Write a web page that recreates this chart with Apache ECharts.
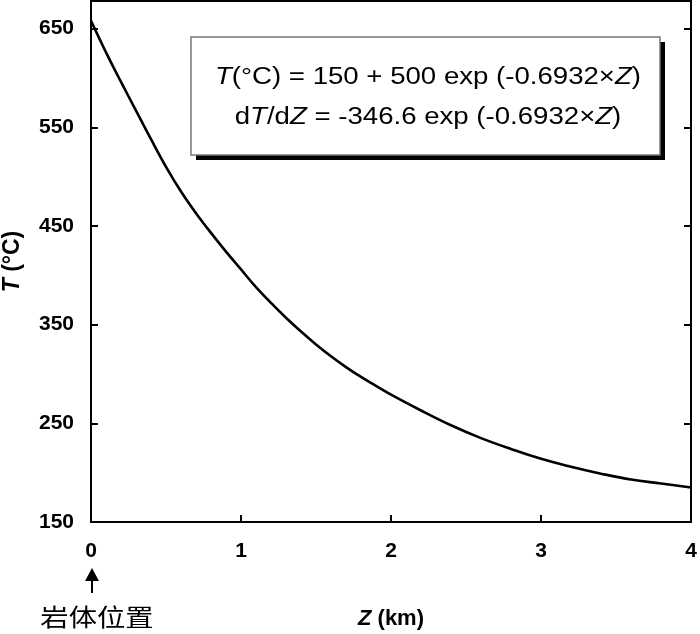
<!DOCTYPE html>
<html>
<head>
<meta charset="utf-8">
<title>T-Z</title>
<script src="https://cdn.jsdelivr.net/npm/echarts@6/dist/echarts.min.js"></script>
<style>
  html, body { margin: 0; padding: 0; background: #fff; }
  #chart { width: 700px; height: 634px; }
</style>
</head>
<body>
<div id="chart"></div>
<script>
// 深度 Z (km) 与温度 T (°C)
var zValues = [0, 0.1, 0.2, 0.3, 0.4, 0.5, 0.6, 0.7, 0.8, 0.9, 1.0, 1.1, 1.2, 1.3, 1.4, 1.5,
    1.6, 1.7, 1.8, 1.9, 2.0, 2.2, 2.4, 2.6, 2.8, 3.0, 3.2, 3.4, 3.6, 3.8, 4.0];
var tValues = [658, 626, 596, 567, 538, 510, 485, 463, 443, 424, 406, 388, 372, 357, 343, 330,
    318, 307, 297, 288, 279, 263, 248, 235, 224, 214, 206, 199, 193, 189, 185];
var xTicks = [0, 1, 2, 3, 4];
var yTicks = [150, 250, 350, 450, 550, 650];

var font = '"Liberation Sans", Arial, sans-serif';
var chart = echarts.init(document.getElementById('chart'));

var lineData = [];
for (var i = 0; i < zValues.length; i++) {
    lineData.push([zValues[i], tValues[i]]);
}

var option = {
    animation: false,
    grid: {
        left: 91, right: 9, top: 1, bottom: 112,
        outerBoundsMode: 'none',
        containLabel: false,
        show: true, borderColor: '#000', borderWidth: 2
    },
    xAxis: {
        type: 'value',
        min: xTicks[0], max: xTicks[xTicks.length - 1], interval: 1,
        axisLine: { lineStyle: { color: '#000', width: 2 } },
        axisTick: { inside: true, length: 7, lineStyle: { color: '#000', width: 2 } },
        splitLine: { show: false },
        axisLabel: { color: '#000', fontFamily: font, fontWeight: 'bold', fontSize: 21, margin: 19 },
        name: '{i|Z} (km)',
        nameLocation: 'middle',
        nameGap: 86,
        nameTextStyle: {
            color: '#000', fontFamily: font, fontWeight: 'bold', fontSize: 22,
            rich: { i: { fontStyle: 'italic', fontWeight: 'bold', fontFamily: font, fontSize: 22, color: '#000' } }
        }
    },
    yAxis: [{
        type: 'value',
        min: yTicks[0], max: 678, interval: 100,
        axisLine: { lineStyle: { color: '#000', width: 2 } },
        axisTick: { inside: true, length: 7, lineStyle: { color: '#000', width: 2 } },
        splitLine: { show: false },
        axisLabel: { color: '#000', fontFamily: font, fontWeight: 'bold', fontSize: 21, margin: 17, showMaxLabel: false },
        name: '{i|T} (°C)',
        nameLocation: 'middle',
        nameGap: 67,
        nameTextStyle: {
            color: '#000', fontFamily: font, fontWeight: 'bold', fontSize: 23,
            rich: { i: { fontStyle: 'italic', fontWeight: 'bold', fontFamily: font, fontSize: 23, color: '#000' } }
        }
    }, {
        type: 'value',
        position: 'right',
        min: yTicks[0], max: 678, interval: 100,
        axisLine: { show: true, lineStyle: { color: '#000', width: 2 } },
        axisTick: { show: true, inside: true, length: 7, lineStyle: { color: '#000', width: 2 } },
        splitLine: { show: false },
        axisLabel: { show: false }
    }],
    series: [{
        type: 'line',
        data: lineData,
        smooth: 0.4,
        showSymbol: false,
        lineStyle: { color: '#000', width: 2.6 },
        clip: true
    }],
    graphic: [
        // 公式框阴影与边框
        { type: 'rect', shape: { x: 196, y: 42, width: 469, height: 118 }, style: { fill: '#000' }, z: 10 },
        { type: 'rect', shape: { x: 191, y: 37, width: 469, height: 118 },
          style: { fill: '#fff', stroke: '#777', lineWidth: 1.5 }, z: 11 },
        { type: 'text', x: 428, y: 78, scaleX: 1.2, z: 12,
          style: {
              text: '{i|T}(°C) = 150 + 500 exp (-0.6932×{i|Z})',
              fill: '#000', font: '23px ' + font, align: 'center', verticalAlign: 'middle',
              rich: { i: { fontStyle: 'italic', fontSize: 23, fontFamily: font } }
          } },
        { type: 'text', x: 428, y: 118, scaleX: 1.2, z: 12,
          style: {
              text: 'd{i|T}/d{i|Z} = -346.6 exp (-0.6932×{i|Z})',
              fill: '#000', font: '23px ' + font, align: 'center', verticalAlign: 'middle',
              rich: { i: { fontStyle: 'italic', fontSize: 23, fontFamily: font } }
          } },
        // 岩体位置箭头
        { type: 'polygon', shape: { points: [[92, 568], [85, 581], [99, 581]] }, style: { fill: '#000' }, z: 12 },
        { type: 'line', shape: { x1: 92, y1: 578, x2: 92, y2: 593 }, style: { stroke: '#000', lineWidth: 2 }, z: 12 },
        { type: 'text', x: 97, y: 617, scaleX: 1.18, z: 12,
          style: {
              text: '岩体位置', fill: '#000',
              font: '24px "Noto Sans CJK SC", sans-serif', align: 'center', verticalAlign: 'middle'
          } }
    ]
};
chart.setOption(option);
</script>
</body>
</html>
